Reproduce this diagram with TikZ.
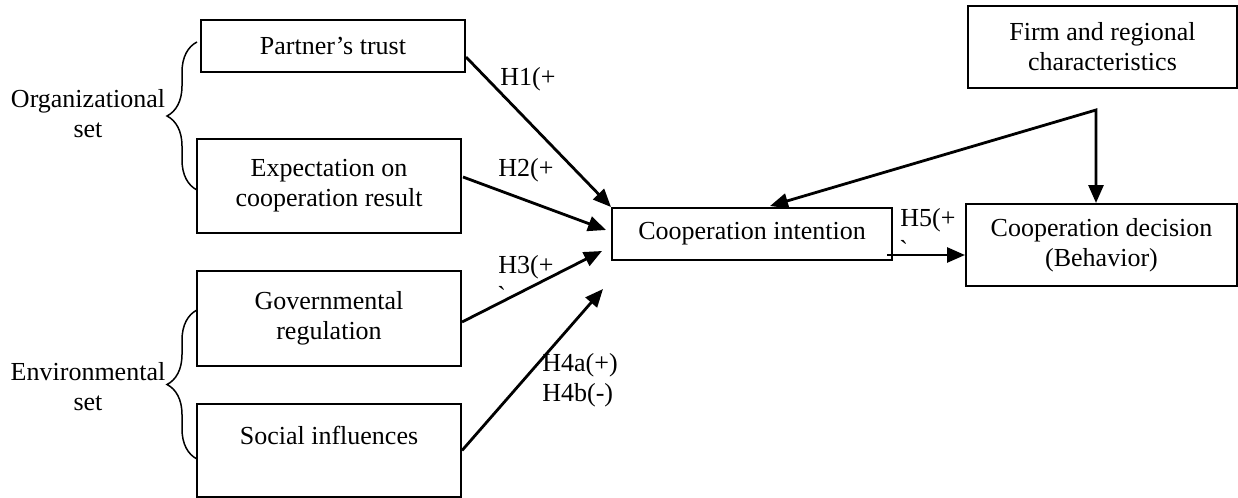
\documentclass[tikz,border=0pt]{standalone}
\usepackage{fontspec}
\setmainfont{Liberation Serif}
\usetikzlibrary{arrows.meta,calc,decorations.pathreplacing}

\begin{document}
\begin{tikzpicture}[x=0.5pt, y=-0.5pt,
    box/.style={draw, line width=1pt, align=center, inner sep=0pt, font=\fontsize{13}{15}\selectfont},
    setlabel/.style={align=center, inner sep=0pt, font=\fontsize{13}{15}\selectfont},
    hyp/.style={inner sep=0pt, anchor=west, align=left, font=\fontsize{13}{15}\selectfont},
    tip/.style={Triangle[length=9pt, width=7.5pt]},
    arr/.style={line width=1.4pt, -{Triangle[length=9pt, width=7.5pt]}},
    setbrace/.style={line width=0.75pt, decorate, decoration={brace, amplitude=15pt}}]
    \useasboundingbox (0,0) rectangle (1238,498);

    % antecedents
    \node[box, minimum width=132pt, minimum height=26pt] (trust) at (333,46) {Partner's trust};
    \node[box, minimum width=132pt, minimum height=47pt] (expect) at (329,186) {Expectation on\\cooperation result};
    \node[box, minimum width=132pt, minimum height=47.5pt] (govern) at (329,318.5) {Governmental\\regulation};
    \node[box, minimum width=132pt, minimum height=46.5pt] (social) at (329,450.5) {Social influences\\\mbox{}};

    % sets
    \node[setlabel] (orgset) at (88,114) {Organizational\\set};
    \node[setlabel] (envset) at (88,387) {Environmental\\set};
    \draw[setbrace] (197,190) -- (197,42);
    \draw[setbrace] (197,459) -- (197,310);

    % outcome side
    \node[box, minimum width=140pt, minimum height=26pt] (intention) at (752,234) {Cooperation intention};
    \node[box, minimum width=135.5pt, minimum height=41pt] (decision) at (1101.5,245) {Cooperation decision\\(Behavior)};
    \node[box, minimum width=134.5pt, minimum height=41pt] (firm) at (1102.5,47) {Firm and regional\\characteristics};

    % hypotheses
    \draw[arr] ($(trust.east)+(0,11)$) -- (intention.north west);
    \draw[arr] ($(expect.east)+(1,-9)$) -- ($(intention.west)+(-5,-4)$);
    \draw[arr] ($(govern.east)+(0,3.5)$) -- ($(intention.south west)+(-9,-10)$);
    \draw[arr] (social.east) -- ($(intention.south west)+(-8,28)$);
    \coordinate (h5start) at ($(intention.east)+(-6,21)$);
    \draw[arr] (h5start) -- (h5start -| decision.west);

    \coordinate (split) at ($(firm.south)+(-6.5,21)$);
    \draw[line width=1.4pt, {Triangle[length=9pt, width=7.5pt]}-{Triangle[length=9pt, width=7.5pt]}]
        ($(intention.north)+(18,-1)$) -- (split) -- (split |- decision.north);

    \node[hyp] (h1) at (500,79) {H1(+};
    \node[hyp] (h2) at (498,170) {H2(+};
    \node[hyp] (h3) at (498,267) {H3(+};
    \node[hyp] (h4) at (542,380) {H4a(+)\\H4b(-)};
    \node[hyp] (h5) at (900,220) {H5(+};
    \node[hyp] (g1) at (500,105) {\textasciigrave};
    \node[hyp] (g3) at (497,295) {\textasciigrave};
    \node[hyp] (g5) at (899,249) {\textasciigrave};
\end{tikzpicture}
\end{document}
